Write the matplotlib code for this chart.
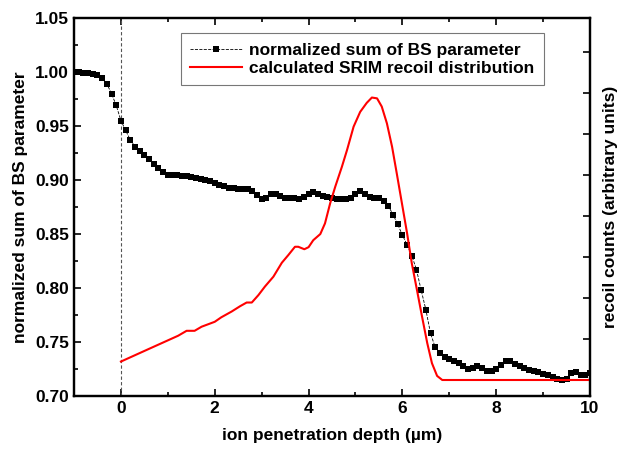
import numpy as np
import matplotlib
matplotlib.use("Agg")
import matplotlib.pyplot as plt
from matplotlib.ticker import MultipleLocator

plt.rcParams['font.family'] = ['Liberation Sans', 'DejaVu Sans']
plt.rcParams['font.weight'] = 'bold'

# normalized sum of BS parameter (sampled every 0.1 um)
depth = np.round(np.arange(-1.0, 10.001, 0.1), 2)
bs_sum = [
    1.000, 1.000, 0.999, 0.999, 0.998, 0.997, 0.994, 0.989, 0.980, 0.969,
    0.955, 0.946, 0.937, 0.931, 0.927, 0.923, 0.919, 0.915, 0.911, 0.907,
    0.905, 0.905, 0.905, 0.904, 0.904, 0.903, 0.902, 0.901, 0.900, 0.899,
    0.897, 0.895, 0.894, 0.893, 0.893, 0.892, 0.892, 0.892, 0.890, 0.886,
    0.882, 0.883, 0.887, 0.887, 0.885, 0.883, 0.883, 0.883, 0.882, 0.884,
    0.887, 0.889, 0.887, 0.885, 0.884, 0.883, 0.882, 0.882, 0.882, 0.883,
    0.887, 0.890, 0.887, 0.884, 0.883, 0.883, 0.881, 0.876, 0.868, 0.859,
    0.849, 0.840, 0.830, 0.817, 0.798, 0.780, 0.758, 0.745, 0.740, 0.736,
    0.734, 0.732, 0.731, 0.728, 0.725, 0.726, 0.728, 0.726, 0.723, 0.723,
    0.725, 0.729, 0.732, 0.732, 0.730, 0.728, 0.726, 0.724, 0.723, 0.722,
    0.720, 0.719, 0.718, 0.716, 0.715, 0.716, 0.721, 0.722, 0.719, 0.719,
    0.721,
]

# calculated SRIM recoil distribution (arbitrary units)
srim_depth = [0.0, 0.58, 1.22, 1.4, 1.57, 1.72, 2.0, 2.14, 2.36, 2.54, 2.68,
              2.79, 2.93, 3.07, 3.25, 3.43, 3.57, 3.71, 3.78, 3.91, 4.0, 4.1,
              4.25, 4.35, 4.46, 4.57, 4.71, 4.82, 4.96, 5.1, 5.24, 5.35, 5.46,
              5.56, 5.67, 5.78, 5.88, 5.99, 6.1, 6.2, 6.31, 6.42, 6.53, 6.63,
              6.74, 6.85, 10.0]
srim_counts = [0.45, 0.75, 1.08, 1.20, 1.20, 1.30, 1.42, 1.53, 1.67, 1.80, 1.89,
               1.89, 2.07, 2.28, 2.52, 2.86, 3.05, 3.25, 3.25, 3.19, 3.24, 3.41,
               3.56, 3.82, 4.31, 4.72, 5.20, 5.61, 6.18, 6.54, 6.76, 6.89, 6.87,
               6.67, 6.26, 5.69, 5.04, 4.31, 3.58, 2.85, 2.20, 1.54, 0.90, 0.41,
               0.10, 0.0, 0.0]

fig = plt.figure(figsize=(6.22, 4.57), dpi=100)
ax = fig.add_axes([0.119, 0.1335, 0.8296, 0.8271])
ax2 = ax.twinx()

ax.axvline(0, color='#555555', linestyle='--', linewidth=0.8, dashes=(3, 2))
l1, = ax.plot(depth, bs_sum, color='black', linestyle='--', linewidth=0.6,
              marker='s', markersize=4.6, markeredgewidth=0,
              label='normalized sum of BS parameter')
l2, = ax2.plot(srim_depth, srim_counts, color='red', linewidth=1.5,
               label='calculated SRIM recoil distribution')

ax.set_xlim(-1, 10)
ax.set_ylim(0.70, 1.05)
ax2.set_ylim(-0.39, 8.83)

ax.xaxis.set_major_locator(MultipleLocator(2))
ax.xaxis.set_minor_locator(MultipleLocator(1))
ax.yaxis.set_major_locator(MultipleLocator(0.05))
ax.yaxis.set_minor_locator(MultipleLocator(0.025))
ax.yaxis.set_major_formatter(plt.FormatStrFormatter('%.2f'))
ax2.yaxis.set_major_locator(MultipleLocator(1))
ax2.set_yticklabels([])

ax.tick_params(which='both', direction='in', top=True, labelsize=12.5, width=1.2)
ax.tick_params(which='major', length=5)
ax.tick_params(which='minor', length=3)
ax2.tick_params(which='both', direction='in', length=5, width=1.2)
for a in (ax, ax2):
    for s in a.spines.values():
        s.set_linewidth(1.6)

ax.set_xlabel('ion penetration depth (\u00b5m)', fontsize=12.5, fontweight='bold', labelpad=9)
ax.set_ylabel('normalized sum of BS parameter', fontsize=12.5, fontweight='bold', labelpad=5)
ax2.set_ylabel('recoil counts (arbitrary units)', fontsize=12.5, fontweight='bold', labelpad=6)

leg = ax.legend(handles=[l1, l2], loc='upper left', bbox_to_anchor=(0.207, 0.960),
                borderaxespad=0, fontsize=12.5, frameon=True, fancybox=False,
                handlelength=3.0, borderpad=0.55, labelspacing=0.15,
                handletextpad=0.4)
leg.get_frame().set_edgecolor('#555555')
leg.get_frame().set_linewidth(0.8)
for t in leg.get_texts():
    t.set_fontweight('bold')

fig.savefig('out.png', dpi=100)
